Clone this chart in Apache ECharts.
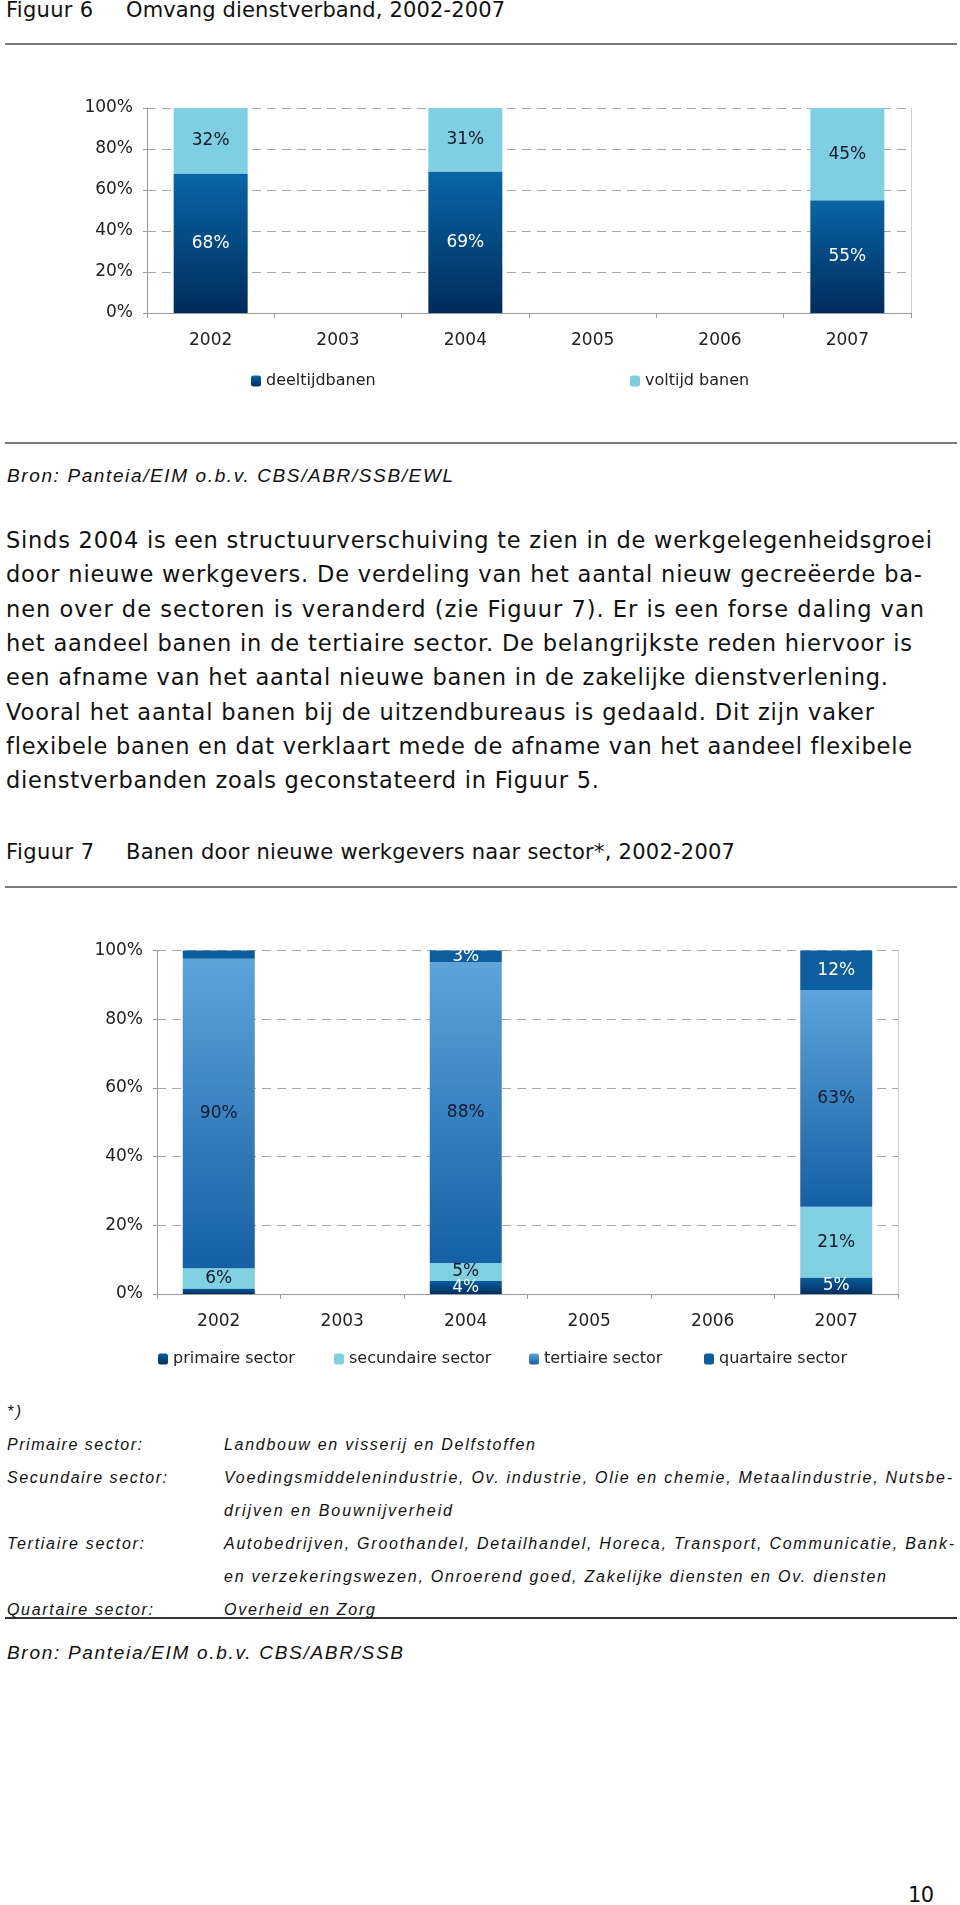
<!DOCTYPE html>
<html><head><meta charset="utf-8">
<script src="https://cdn.jsdelivr.net/npm/echarts@6/dist/echarts.min.js"></script>
<style>
html,body{margin:0;padding:0;background:#fff;}
body{width:960px;height:1905px;position:relative;overflow:hidden;}
.t{position:absolute;white-space:nowrap;color:#111;}
.dv{font-family:"DejaVu Sans",Verdana,sans-serif;}
.it{font-family:"Liberation Sans Narrow","Liberation Sans",Arial,sans-serif;font-style:italic;}
.rule{position:absolute;left:5px;width:952px;}
.chart{position:absolute;left:0;width:960px;}
</style></head>
<body>
<div class="rule" style="top:43px;height:2px;background:#7a7a7a"></div>
<div class="rule" style="top:442px;height:2px;background:#7a7a7a"></div>
<div class="rule" style="top:886px;height:2px;background:#7a7a7a"></div>
<div class="rule" style="top:1617px;height:1.5px;background:#333"></div>

<div class="t dv" data-x="6" data-cy="9.5" data-fs="21" data-w="87">Figuur 6</div>
<div class="t dv" data-x="126" data-cy="9.5" data-fs="21" data-w="379">Omvang dienstverband, 2002-2007</div>

<div class="chart" id="c1" style="top:80px;height:340px"></div>

<div class="t it" data-x="7" data-cy="476.3" data-fs="19" data-w="446">Bron: Panteia/EIM o.b.v. CBS/ABR/SSB/EWL</div>

<div class="t dv" data-x="6" data-cy="540.0" data-fs="22.5" data-w="926">Sinds 2004 is een structuurverschuiving te zien in de werkgelegenheidsgroei</div>
<div class="t dv" data-x="6" data-cy="574.3" data-fs="22.5" data-w="916">door nieuwe werkgevers. De verdeling van het aantal nieuw gecreëerde ba-</div>
<div class="t dv" data-x="6" data-cy="608.6" data-fs="22.5" data-w="918">nen over de sectoren is veranderd (zie Figuur 7). Er is een forse daling van</div>
<div class="t dv" data-x="6" data-cy="642.9" data-fs="22.5" data-w="906">het aandeel banen in de tertiaire sector. De belangrijkste reden hiervoor is</div>
<div class="t dv" data-x="6" data-cy="677.2" data-fs="22.5" data-w="882">een afname van het aantal nieuwe banen in de zakelijke dienstverlening.</div>
<div class="t dv" data-x="6" data-cy="711.5" data-fs="22.5" data-w="868">Vooral het aantal banen bij de uitzendbureaus is gedaald. Dit zijn vaker</div>
<div class="t dv" data-x="6" data-cy="745.8" data-fs="22.5" data-w="906">flexibele banen en dat verklaart mede de afname van het aandeel flexibele</div>
<div class="t dv" data-x="6" data-cy="780.1" data-fs="22.5" data-w="593">dienstverbanden zoals geconstateerd in Figuur 5.</div>

<div class="t dv" data-x="6" data-cy="852.4" data-fs="21" data-w="88">Figuur 7</div>
<div class="t dv" data-x="126" data-cy="852.4" data-fs="21" data-w="609">Banen door nieuwe werkgevers naar sector*, 2002-2007</div>

<div class="chart" id="c2" style="top:900px;height:480px"></div>

<div class="t it" data-x="7" data-cy="1412" data-fs="16" data-w="14">*)</div>
<div class="t it" data-x="7" data-cy="1445" data-fs="16" data-w="135">Primaire sector:</div>
<div class="t it" data-x="224" data-cy="1445" data-fs="16" data-w="311">Landbouw en visserij en Delfstoffen</div>
<div class="t it" data-x="7" data-cy="1478" data-fs="16" data-w="160">Secundaire sector:</div>
<div class="t it" data-x="224" data-cy="1478" data-fs="16" data-w="728">Voedingsmiddelenindustrie, Ov. industrie, Olie en chemie, Metaalindustrie, Nutsbe-</div>
<div class="t it" data-x="224" data-cy="1511" data-fs="16" data-w="228">drijven en Bouwnijverheid</div>
<div class="t it" data-x="7" data-cy="1544" data-fs="16" data-w="137">Tertiaire sector:</div>
<div class="t it" data-x="224" data-cy="1544" data-fs="16" data-w="730">Autobedrijven, Groothandel, Detailhandel, Horeca, Transport, Communicatie, Bank-</div>
<div class="t it" data-x="224" data-cy="1577" data-fs="16" data-w="662">en verzekeringswezen, Onroerend goed, Zakelijke diensten en Ov. diensten</div>
<div class="t it" data-x="7" data-cy="1610" data-fs="16" data-w="146">Quartaire sector:</div>
<div class="t it" data-x="224" data-cy="1610" data-fs="16" data-w="151">Overheid en Zorg</div>

<div class="t it" data-x="7" data-cy="1653" data-fs="19" data-w="396">Bron: Panteia/EIM o.b.v. CBS/ABR/SSB</div>
<div class="t dv" data-x="908" data-cy="1895" data-fs="21" data-w="26">10</div>

<script>
// ---------- data ----------
const years = ['2002', '2003', '2004', '2005', '2006', '2007'];
const yTicks = [0, 20, 40, 60, 80, 100];

// Figuur 6
const deeltijdbanen = [68, null, 69, null, null, 55];
const voltijdBanen  = [32, null, 31, null, null, 45];

// Figuur 7
const primaire   = [1.6, null, 3.8, null, null, 4.8];
const secundaire = [5.9, null, 5.2, null, null, 20.6];
const tertiaire  = [90.1, null, 87.6, null, null, 63.1];
const quartaire  = [2.4, null, 3.4, null, null, 11.5];

// ---------- text placement ----------
function placeText() {
  document.querySelectorAll('.t').forEach(el => {
    const fs = +el.dataset.fs, lh = Math.round(fs * 1.25);
    el.style.fontSize = fs + 'px';
    el.style.lineHeight = lh + 'px';
    el.style.left = el.dataset.x + 'px';
    el.style.top = (+el.dataset.cy - lh / 2) + 'px';
    el.style.letterSpacing = '0px';
    const nat = el.getBoundingClientRect().width;
    const n = el.textContent.length;
    const s = n > 1 ? (+el.dataset.w - nat) / (n - 1) : 0;
    el.style.letterSpacing = s + 'px';
  });
}
placeText();
if (document.fonts && document.fonts.ready) document.fonts.ready.then(placeText);

// ---------- charts ----------
const FONT = 'DejaVu Sans';
const grad = (a, b) => new echarts.graphic.LinearGradient(0, 0, 0, 1, [
  { offset: 0, color: a }, { offset: 1, color: b }]);
const pct = p => (p.value == null || p.value < 2.8) ? '' : Math.round(p.value) + '%';

function axes(cfg) {
  return {
    xAxis: {
      type: 'category', data: years,
      axisLine: { lineStyle: { color: '#9a9a9a', width: 1 } },
      axisTick: { show: true, length: 5, lineStyle: { color: '#9a9a9a' } },
      axisLabel: { color: '#222', fontFamily: FONT, fontSize: 17, margin: cfg.xMargin }
    },
    yAxis: [{
      type: 'value', min: yTicks[0], max: yTicks[yTicks.length - 1], interval: 20,
      axisLine: { show: true, lineStyle: { color: '#9a9a9a' } },
      axisTick: { show: true, length: 4, lineStyle: { color: '#9a9a9a' } },
      axisLabel: { color: '#222', fontFamily: FONT, fontSize: 17, margin: cfg.yMargin, formatter: '{value}%' },
      splitLine: { show: true, lineStyle: { color: '#a8a8a8', type: [9, 6], width: 1 } }
    }, {
      type: 'value', min: 0, max: 100, position: 'right',
      axisLine: { show: true, lineStyle: { color: '#cfcfcf' } },
      axisTick: { show: false }, axisLabel: { show: false }, splitLine: { show: false }
    }]
  };
}

function legendItem(name, left, top) {
  return {
    data: [name], left: left, top: top, orient: 'horizontal',
    itemWidth: 10, itemHeight: 11, itemGap: 0, padding: 0,
    selectedMode: false,
    textStyle: { color: '#222', fontFamily: FONT, fontSize: 16 }
  };
}

function barSeries(name, data, color, labelColor, width) {
  return {
    name: name, type: 'bar', stack: 'total', data: data, barWidth: width,
    itemStyle: { color: color },
    label: { show: true, position: 'inside', color: labelColor, fontFamily: FONT, fontSize: 17, formatter: pct },
    emphasis: { disabled: true }
  };
}

const c1 = echarts.init(document.getElementById('c1'), null, { renderer: 'canvas' });
c1.setOption(Object.assign({
  animation: false,
  grid: { left: 147, top: 28, width: 764, height: 205 },
  legend: [legendItem('deeltijdbanen', 251, 293), legendItem('voltijd banen', 630, 293)],
  series: [
    barSeries('deeltijdbanen', deeltijdbanen, grad('#0866a6', '#012b5c'), '#ffffff', 74),
    barSeries('voltijd banen', voltijdBanen, '#7ecfe1', '#15192a', 74)
  ]
}, axes({ xMargin: 19, yMargin: 14 })));

const c2 = echarts.init(document.getElementById('c2'), null, { renderer: 'canvas' });
c2.setOption(Object.assign({
  animation: false,
  grid: { left: 157, top: 50.5, width: 741, height: 343.5 },
  legend: [
    legendItem('primaire sector', 158, 451),
    legendItem('secundaire sector', 334, 451),
    legendItem('tertiaire sector', 529, 451),
    legendItem('quartaire sector', 704, 451)
  ],
  series: [
    barSeries('primaire sector', primaire, grad('#0a5d9c', '#022f62'), '#ffffff', 72),
    barSeries('secundaire sector', secundaire, '#7fd0e1', '#15192a', 72),
    barSeries('tertiaire sector', tertiaire, grad('#5ca4da', '#1560a5'), '#111a33', 72),
    barSeries('quartaire sector', quartaire, '#0c5e9f', '#ffffff', 72)
  ]
}, axes({ xMargin: 19, yMargin: 14 })));
</script>
</body></html>
